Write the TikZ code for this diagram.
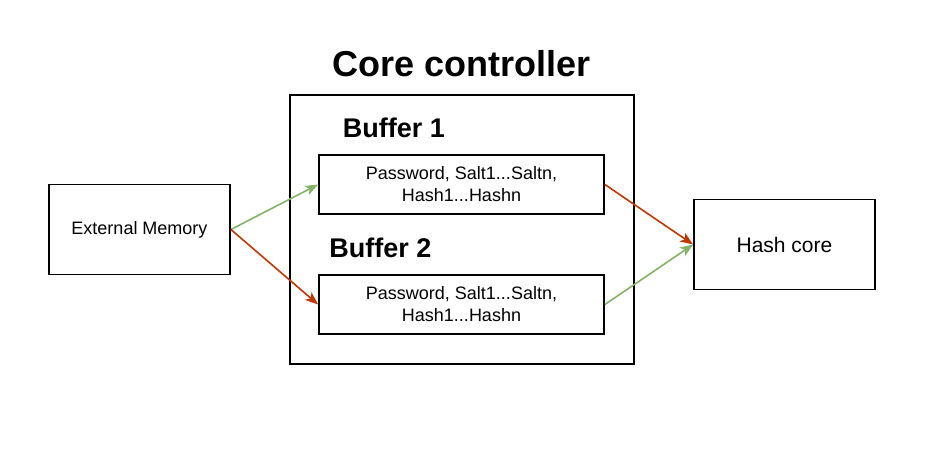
\documentclass[tikz,border=0pt]{standalone}
\usepackage{fontspec}
\setmainfont{Liberation Sans}
\usepackage{xcolor}
\usetikzlibrary{arrows.meta,positioning}
\definecolor{fwdgreen}{HTML}{82B366}
\definecolor{fwdred}{HTML}{C73500}

\begin{document}
\begin{tikzpicture}[x=1pt,y=-1pt,
    box/.style={rectangle, draw, line width=1.8pt, inner sep=0pt, align=center},
    flow/.style={line width=1.6pt, -{Stealth[length=13pt,width=10pt,inset=3.5pt]}},
    title/.style={font=\bfseries}]
  \useasboundingbox (0,0) rectangle (946,459);
  \node (Ctrl)[box, minimum width=344pt, minimum height=269pt] at (462,229.5) {};
  \node (CtrlTitle)[title, font=\fontsize{36}{40}\selectfont\bfseries] at (462,64) {Core controller};
  \node (Mem)[box, minimum width=181pt, minimum height=90pt, font=\fontsize{18}{21}\selectfont] at (139.5,229.5) {External Memory};
  \node (Hash)[box, minimum width=181pt, minimum height=90pt, font=\fontsize{21}{24}\selectfont] at (784.5,244.5) {Hash core};
  \node (BufA)[box, minimum width=285pt, minimum height=59pt, font=\fontsize{18}{22}\selectfont] at (461.5,184.5) {Password, Salt1...Saltn,\\Hash1...Hashn};
  \node (BufB)[box, minimum width=285pt, minimum height=59pt, font=\fontsize{18}{22}\selectfont] at (461.5,304.5) {Password, Salt1...Saltn,\\Hash1...Hashn};
  \node (BufALabel)[title, font=\fontsize{27}{30}\selectfont\bfseries] at (394,127.5) {Buffer 1};
  \node (BufBLabel)[title, font=\fontsize{27}{30}\selectfont\bfseries] at (380.5,247.5) {Buffer 2};
  % links
  \draw[flow, fwdgreen] (Mem.east) -- (BufA.west);
  \draw[flow, fwdred] (Mem.east) -- (BufB.west);
  \draw[flow, fwdred] (BufA.east) -- (Hash.west);
  \draw[flow, fwdgreen] (BufB.east) -- (Hash.west);
\end{tikzpicture}
\end{document}
